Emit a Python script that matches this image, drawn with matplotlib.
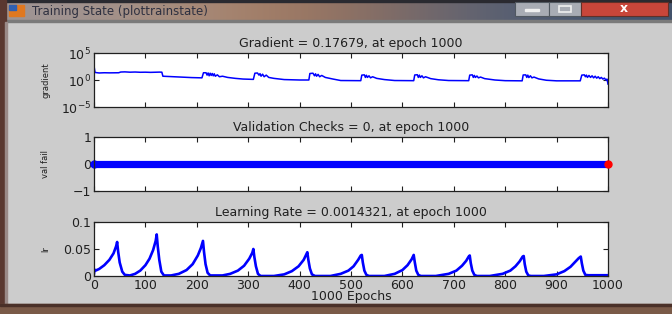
import numpy as np
import matplotlib.pyplot as plt
from matplotlib.patches import Rectangle
from matplotlib.ticker import FixedLocator

W, H = 672, 314
FONT = 'DejaVu Sans'
plt.rcParams['font.family'] = [FONT]

# --- values ---
grad_epochs = [0, 2, 10, 20, 30, 40, 48, 52, 60, 70, 80, 90, 100, 110, 120, 128, 132, 134, 150, 170, 190, 210,
               213, 218, 220, 222, 224, 226, 228, 230, 232, 234, 236, 240, 244, 250, 260, 275, 290, 310,
               313, 318, 321, 323, 325, 328, 331, 335, 340, 350, 370, 400, 418,
               420, 426, 429, 431, 433, 436, 439, 443, 450, 465, 480, 519,
               521, 526, 528, 530, 532, 535, 538, 542, 550, 565, 585, 622,
               624, 629, 631, 633, 635, 638, 641, 645, 655, 670, 690, 729,
               731, 736, 738, 740, 742, 745, 748, 752, 760, 780, 800, 833,
               835, 840, 842, 844, 846, 849, 852, 856, 865, 880, 900, 946,
               949, 954, 956, 958, 960, 963, 966, 969, 972, 975, 978, 981, 984, 987, 990, 993, 996, 998, 1000]
grad_values = [400, 25, 20, 22, 21, 22, 22, 30, 32, 28, 30, 27, 28, 26, 28, 29, 28, 5, 4.2, 3.5, 2.8, 2.5,
               22, 22, 8, 20, 6, 18, 7, 16, 6, 14, 5, 9, 4, 5, 3, 2, 1.5, 1.3,
               18, 20, 8, 15, 5, 12, 4, 8, 3, 2, 1.2, 1.0, 1.0,
               16, 18, 6, 14, 5, 11, 4, 7, 3, 1.5, 0.8, 0.75,
               8, 9, 3, 7.5, 3, 6, 2.5, 4, 2, 1.2, 0.8, 0.75,
               8.5, 9.5, 3, 8, 3, 6, 2.5, 4, 1.8, 1.1, 0.8, 0.75,
               8, 9, 3, 7, 3, 5.5, 2.5, 3.5, 1.8, 1.0, 0.75, 0.7,
               8.5, 9, 3, 8, 2.8, 6, 2.5, 3.5, 1.6, 0.9, 0.7, 0.7,
               8, 9, 4, 8, 3, 7, 3, 6, 2.5, 5, 2.2, 4, 1.8, 3, 1.5, 2.2, 1.0, 1.5, 0.17679]

val_epochs = [0, 1000]
val_checks = [0, 0]

lr_epochs = [0, 1, 3, 10, 20, 30, 38, 43, 45, 47, 50, 55, 60,
             70, 80, 90, 100, 108, 115, 120, 122, 124, 127, 131, 136,
             150, 165, 180, 192, 202, 208, 212, 214, 217, 221, 226,
             250, 265, 280, 292, 302, 308, 310, 312, 315, 319, 324,
             350, 370, 385, 398, 408, 413, 415, 417, 420, 424, 430,
             460, 480, 495, 505, 514, 519, 521, 523, 526, 530, 535,
             565, 585, 600, 610, 618, 622, 624, 627, 631, 636,
             665, 690, 705, 716, 724, 729, 731, 733, 736, 740, 745,
             770, 795, 810, 820, 828, 834, 836, 838, 841, 845, 850,
             875, 900, 915, 927, 936, 943, 947, 949, 952, 956, 962, 1000]
lr_values = [0.005, 0.012, 0.010, 0.013, 0.020, 0.030, 0.042, 0.055, 0.063, 0.045, 0.025, 0.008, 0.002,
             0.001, 0.004, 0.010, 0.020, 0.032, 0.048, 0.065, 0.077, 0.055, 0.030, 0.008, 0.001,
             0.001, 0.004, 0.011, 0.022, 0.038, 0.052, 0.065, 0.045, 0.022, 0.006, 0.001,
             0.001, 0.004, 0.010, 0.019, 0.032, 0.043, 0.050, 0.035, 0.018, 0.004, 0.0,
             0.0, 0.003, 0.009, 0.018, 0.030, 0.040, 0.044, 0.030, 0.014, 0.003, 0.0,
             0.0, 0.004, 0.010, 0.018, 0.030, 0.038, 0.039, 0.025, 0.010, 0.002, 0.0,
             0.0, 0.004, 0.011, 0.020, 0.031, 0.039, 0.026, 0.010, 0.002, 0.0,
             0.0, 0.004, 0.010, 0.019, 0.028, 0.036, 0.038, 0.024, 0.010, 0.002, 0.0,
             0.0, 0.004, 0.010, 0.018, 0.027, 0.036, 0.037, 0.022, 0.008, 0.001, 0.0,
             0.0, 0.003, 0.009, 0.017, 0.026, 0.033, 0.036, 0.024, 0.010, 0.002, 0.0014, 0.0014321]

x_ticks = [0, 100, 200, 300, 400, 500, 600, 700, 800, 900, 1000]
titles = ['Gradient = 0.17679, at epoch 1000',
          'Validation Checks = 0, at epoch 1000',
          'Learning Rate = 0.0014321, at epoch 1000']
ylabels = ['gradient', 'val fail', 'lr']
window_title = 'Training State (plottrainstate)'


def px_axes(x0, y0, x1, y1):
    return [x0 / W, 1 - y1 / H, (x1 - x0) / W, (y1 - y0) / H]


fig = plt.figure(figsize=(W / 100, H / 100), dpi=100)

# --- window chrome ---
bg = fig.add_axes([0, 0, 1, 1], zorder=-5)
bg.set_xlim(0, W); bg.set_ylim(H, 0); bg.axis('off')
bg.add_patch(Rectangle((0, 0), W, H, color='#cccccc', zorder=0))
bar = np.array([[0.62, 0.58, 0.58], [0.66, 0.56, 0.50], [0.64, 0.48, 0.38],
                [0.50, 0.42, 0.40], [0.34, 0.38, 0.46], [0.26, 0.32, 0.42]])
bg.imshow(bar[np.newaxis, :, :], extent=(0, W, 21, 0), aspect='auto',
          interpolation='bicubic', zorder=1)
bg.set_xlim(0, W); bg.set_ylim(H, 0)
chrome = [((0, 0), W, 2, '#2a2a30'), ((0, 20), W, 2, '#7a7a7a'),
          ((0, 0), 6, H, '#5a3830'), ((5, 22), 2, 283, '#9a8a88'),
          ((0, 304), W, 10, '#7a5a48'), ((0, 304), W, 2, '#4a3028'),
          ((9, 5), 15, 11, '#e07820'), ((9, 5), 7, 5, '#3060b0')]
for xy, w, h, c in chrome:
    bg.add_patch(Rectangle(xy, w, h, color=c, zorder=2))
bg.add_patch(Rectangle((515, 2), 34, 14, facecolor='#a8acb4', edgecolor='#505860', lw=0.8, zorder=2))
bg.add_patch(Rectangle((549, 2), 32, 14, facecolor='#a8acb4', edgecolor='#505860', lw=0.8, zorder=2))
bg.add_patch(Rectangle((581, 2), 87, 14, facecolor='#c8463a', edgecolor='#603028', lw=0.8, zorder=2))
bg.add_patch(Rectangle((525, 9), 14, 2, color='#f0f0f0', zorder=3))
bg.add_patch(Rectangle((559, 6), 12, 6, facecolor='none', edgecolor='#f0f0f0', lw=1.2, zorder=3))
bg.text(624, 9, 'x', color='white', fontsize=9, fontweight='bold', ha='center', va='center', zorder=4)
bg.text(32, 11, window_title, color='#2e3040', fontsize=8.5, va='center', ha='left', zorder=4)

# --- the three plots ---
boxes = [(94, 53, 608, 107), (94, 137, 608, 191), (94, 222, 608, 276)]
axes = [fig.add_axes(px_axes(*b)) for b in boxes]
ax1, ax2, ax3 = axes

ax1.semilogy(grad_epochs, grad_values, color='#0000ff', lw=1.1)
ax1.set_ylim(1e-5, 1e5)
ax1.yaxis.set_major_locator(FixedLocator([1e-5, 1e0, 1e5]))
ax1.yaxis.set_minor_locator(FixedLocator([]))

ax2.plot(val_epochs, val_checks, color='#0000ff', lw=5.2, solid_capstyle='butt')
ax2.plot(val_epochs[:1], val_checks[:1], marker='o', color='#0000ff', ms=5, clip_on=False)
ax2.plot(val_epochs[-1:], val_checks[-1:], marker='o', color='#ff0000', ms=5, clip_on=False, zorder=5)
ax2.set_ylim(-1, 1)
ax2.set_yticks([-1, 0, 1])

ax3.plot(lr_epochs, lr_values, color='#0000ff', lw=1.9)
ax3.set_ylim(0, 0.1)
ax3.set_yticks([0, 0.05, 0.1])
ax3.set_yticklabels(['0', '0.05', '0.1'])

for ax, title, yl in zip(axes, titles, ylabels):
    ax.set_xlim(0, 1000)
    ax.set_xticks(x_ticks)
    ax.set_facecolor('white')
    ax.set_title(title, fontsize=9, pad=4, color='#202020')
    ax.set_ylabel(yl, fontsize=6, color='#202020')
    ax.yaxis.set_label_coords(-0.085, 0.5)
    ax.tick_params(direction='in', top=True, right=True, length=3.5, width=0.8,
                   labelsize=9, colors='#202020', pad=2)
    for s in ax.spines.values():
        s.set_linewidth(0.9)
        s.set_color('#202020')
    if ax is not ax3:
        ax.tick_params(labelbottom=False)

ax3.set_xlabel('1000 Epochs', fontsize=9, color='#202020', labelpad=-1)

fig.savefig('out.png', dpi=100)
